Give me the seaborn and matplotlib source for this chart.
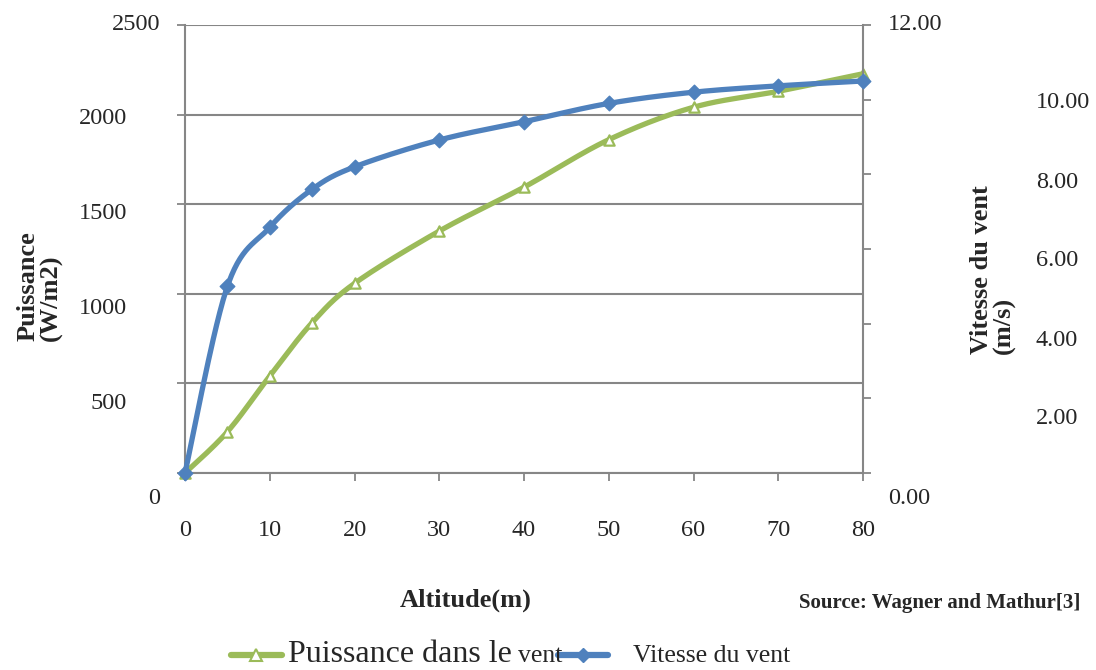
import numpy as np
import pandas as pd
import matplotlib
matplotlib.use("Agg")
import matplotlib.pyplot as plt
import matplotlib.transforms as mtrans
from matplotlib.lines import Line2D
import seaborn as sns

# ---------------- data ----------------
altitude = [0, 5, 10, 15, 20, 30, 40, 50, 60, 70, 80]
puissance = [0, 230, 541, 839, 1058, 1350, 1595, 1860, 2041, 2130, 2228]
vitesse = [0.0, 5.0, 6.58, 7.60, 8.20, 8.92, 9.41, 9.90, 10.20, 10.37, 10.50]

x_ticks = [0, 10, 20, 30, 40, 50, 60, 70, 80]
left_ticks = [0, 500, 1000, 1500, 2000, 2500]
right_ticks = [0, 2, 4, 6, 8, 10, 12]
right_labels = ["0.00", "2.00", "4.00", "6.00", "8.00", "10.00", "12.00"]

series_names = ["Puissance dans le vent", "Vitesse du vent"]

GREEN = "#9BBB59"
BLUE = "#4F81BD"
GRID = "#868686"

sns.set_theme(style="white")
plt.rcParams["font.family"] = ["Liberation Serif", "DejaVu Serif"]

W, H = 1096, 670
fig = plt.figure(figsize=(W / 100, H / 100), dpi=100)

# plot area in pixels
L, R, T, B = 185, 863, 25, 473
ax = fig.add_axes([L / W, 1 - B / H, (R - L) / W, (B - T) / H])
ax2 = ax.twinx()


def smooth(xs, ys, xr, yr, n=30):
    """Excel-style smoothed path (Catmull-Rom) through the data points."""
    sx = (R - L) / xr
    sy = (B - T) / yr
    P = np.column_stack([np.asarray(xs, float) * sx, np.asarray(ys, float) * sy])
    P = np.vstack([P[0], P, P[-1]])
    out = []
    t = np.linspace(0, 1, n, endpoint=False)[:, None]
    for i in range(1, len(P) - 2):
        p0, p1, p2, p3 = P[i - 1], P[i], P[i + 1], P[i + 2]
        seg = 0.5 * ((2 * p1) + (-p0 + p2) * t + (2 * p0 - 5 * p1 + 4 * p2 - p3) * t ** 2
                     + (-p0 + 3 * p1 - 3 * p2 + p3) * t ** 3)
        out.append(seg)
    out.append(P[-2][None, :])
    S = np.vstack(out)
    return S[:, 0] / sx, S[:, 1] / sy


df = pd.DataFrame({"altitude": altitude, "puissance": puissance, "vitesse": vitesse})

# green series (left axis)
gx, gy = smooth(df["altitude"], df["puissance"], 80, 2500)
sns.lineplot(x=gx, y=gy, ax=ax, sort=False, estimator=None, color=GREEN, lw=3.8,
             solid_capstyle="round", zorder=3)
sns.scatterplot(data=df, x="altitude", y="puissance", ax=ax, marker="^", s=55,
                color="white", edgecolor=GREEN, linewidth=1.6, zorder=4, clip_on=False)

# blue series (right axis)
bx, by = smooth(df["altitude"], df["vitesse"], 80, 12)
sns.lineplot(x=bx, y=by, ax=ax2, sort=False, estimator=None, color=BLUE, lw=3.8,
             solid_capstyle="round", zorder=3)
sns.scatterplot(data=df, x="altitude", y="vitesse", ax=ax2, marker="D", s=55,
                color=BLUE, edgecolor=BLUE, linewidth=1, zorder=4, clip_on=False)
for a in (ax, ax2):
    for ln in a.lines:
        ln.set_clip_on(False)

ax.set_xlim(0, 80)
ax.set_ylim(0, 2500)
ax2.set_ylim(0, 12)
ax.set_xlabel("")
ax.set_ylabel("")
ax2.set_ylabel("")

ax.set_xticks(x_ticks)
ax.set_xticklabels([str(v) for v in x_ticks], fontsize=17.5)
ax.set_yticks(left_ticks)
ax.set_yticklabels([])
ax2.set_yticks(right_ticks)
ax2.set_yticklabels([])

ax.yaxis.grid(True, color=GRID, lw=1.5)
ax.xaxis.grid(False)
ax2.grid(False)
ax.set_axisbelow(True)

ax.tick_params(axis="x", direction="out", length=5.5, width=1.3, color=GRID, pad=28,
               bottom=True)
ax.tick_params(axis="y", direction="out", length=6, width=1.3, color=GRID, left=True)
ax2.tick_params(axis="y", direction="out", length=6, width=1.3, color=GRID, right=True)

for a in (ax, ax2):
    for s in a.spines.values():
        s.set_visible(False)
ax.spines["left"].set_visible(True)
ax.spines["bottom"].set_visible(True)
ax2.spines["right"].set_visible(True)
for s in (ax.spines["left"], ax.spines["bottom"], ax2.spines["right"]):
    s.set_color(GRID)
    s.set_linewidth(1.5)

# staggered tick labels (as in the original)
lab_bottom, lab_top = 498, 24
lab_l = fig.add_axes([L / W, 1 - lab_bottom / H, (R - L) / W, (lab_bottom - lab_top) / H])
lab_l.set_ylim(0, 2500)
lab_l.axis("off")
trL = mtrans.blended_transform_factory(fig.transFigure, lab_l.transData)
for v in left_ticks:
    xr = 160 if v in (0, 2500) else 127
    lab_l.text(xr / W, v, str(v), transform=trL, ha="right", va="center", fontsize=17.5)

lab_r = fig.add_axes([L / W, 1 - lab_bottom / H, (R - L) / W, (lab_bottom - lab_top) / H])
lab_r.set_ylim(0, 12)
lab_r.axis("off")
trR = mtrans.blended_transform_factory(fig.transFigure, lab_r.transData)
for v, s in zip(right_ticks, right_labels):
    xl = 888 if v in (0, 12) else 1036
    lab_r.text(xl / W, v, s, transform=trR, ha="left", va="center", fontsize=17.5)

# axis titles
fig.text(40 / W, 1 - 286 / H, "Puissance\n(W/m2)", rotation=90, ha="center", va="center",
         multialignment="left", fontsize=19, fontweight="bold", linespacing=1.0)
fig.text(993 / W, 1 - 270 / H, "Vitesse du vent\n(m/s)", rotation=90, ha="center",
         va="center", multialignment="left", fontsize=19, fontweight="bold", linespacing=1.0)
fig.text(466 / W, 1 - 600 / H, "Altitude(m)", ha="center", va="center", fontsize=19,
         fontweight="bold")
fig.text(1080 / W, 1 - 603 / H, "Source: Wagner and Mathur[3]", ha="right", va="center",
         fontsize=15, fontweight="bold")

# legend (drawn like the original)
base = 1 - 662 / H
ly = 1 - 655 / H
fig.add_artist(Line2D([231 / W, 282 / W], [ly, ly], color=GREEN, lw=4.5,
                      transform=fig.transFigure))
fig.add_artist(Line2D([256 / W], [ly], marker="^", markersize=8, color=GREEN,
                      markerfacecolor="white", markeredgewidth=1.5, transform=fig.transFigure))
fig.text(288 / W, base, "Puissance dans le", ha="left", va="baseline", fontsize=23)
fig.text(518 / W, base, "vent", ha="left", va="baseline", fontsize=18.5)
fig.add_artist(Line2D([558 / W, 608 / W], [ly, ly], color=BLUE, lw=4.5,
                      transform=fig.transFigure))
fig.add_artist(Line2D([583 / W], [ly], marker="D", markersize=7, color=BLUE,
                      transform=fig.transFigure))
fig.text(633 / W, base, "Vitesse du vent", ha="left", va="baseline", fontsize=18.5)

fig.savefig("out.png", dpi=100)
